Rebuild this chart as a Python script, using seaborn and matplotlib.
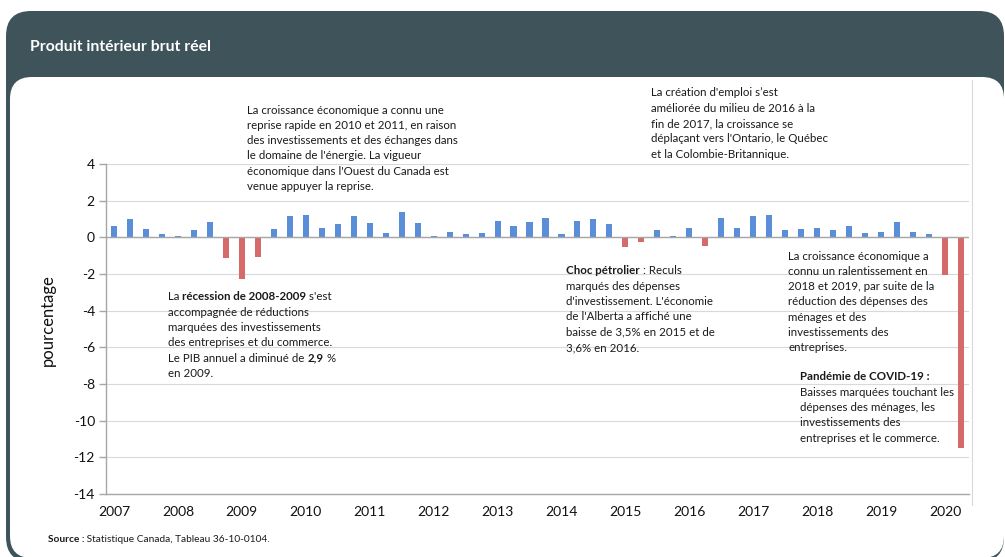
import numpy as np
import pandas as pd
import matplotlib.pyplot as plt
import seaborn as sns
from matplotlib.patches import FancyBboxPatch
from matplotlib.lines import Line2D

W, H = 1005, 557

# Croissance trimestrielle du PIB réel (%), 2007T1 à 2020T2
years = list(range(2007, 2021))
quarters = [f"{y}T{q}" for y in years for q in (1, 2, 3, 4)][:54]
growth = [
    0.62, 1.00, 0.45, 0.16,     # 2007
    0.09, 0.40, 0.84, -1.15,    # 2008
    -2.25, -1.07, 0.45, 1.16,   # 2009
    1.24, 0.53, 0.71, 1.18,     # 2010
    0.76, 0.22, 1.38, 0.76,     # 2011
    0.07, 0.31, 0.16, 0.22,     # 2012
    0.91, 0.62, 0.85, 1.07,     # 2013
    0.16, 0.91, 1.00, 0.71,     # 2014
    -0.55, -0.25, 0.38, 0.07,   # 2015
    0.53, -0.47, 1.07, 0.53,    # 2016
    1.16, 1.22, 0.38, 0.44,     # 2017
    0.53, 0.38, 0.62, 0.22,     # 2018
    0.31, 0.84, 0.31, 0.16,     # 2019
    -2.05, -11.50,              # 2020
]
year_labels = [str(y) for y in years]
y_ticks = list(range(-14, 5, 2))

BLUE = '#5b8ed8'
RED = '#d66a6a'
DARK = '#3e545a'
GRID = '#d9d9d9'
AXIS = '#a6a6a6'

df = pd.DataFrame({'trimestre': quarters, 'croissance': growth})
df['signe'] = np.where(df['croissance'] < 0, 'neg', 'pos')

sns.set_style('white')
plt.rcParams['font.family'] = ['Lato', 'DejaVu Sans']

fig = plt.figure(figsize=(W / 100, H / 100), dpi=100)
fig.patch.set_facecolor('white')

# cadre foncé + panneau blanc (sous les axes)
fig.patches.append(FancyBboxPatch((0.06, -0.05), 9.98, 5.51,
                                  boxstyle='round,pad=0,rounding_size=0.25',
                                  transform=fig.dpi_scale_trans, fc=DARK, ec='none', zorder=-3))
fig.patches.append(FancyBboxPatch((0.10, -0.01), 9.94, 4.81,
                                  boxstyle='round,pad=0,rounding_size=0.22',
                                  transform=fig.dpi_scale_trans, fc='white', ec='none', zorder=-2))
fig.lines.append(Line2D([972 / W, 972 / W], [1 - 80 / H, 1 - 505 / H],
                        transform=fig.transFigure, color=GRID, lw=0.8, zorder=-1))

ax = fig.add_axes([106 / W, 1 - 494 / H, (969 - 106) / W, (494 - 164) / H])
ax.set_facecolor('none')

sns.barplot(data=df, x='trimestre', y='croissance', hue='signe', order=quarters,
            palette={'pos': BLUE, 'neg': RED}, dodge=False, width=0.38,
            saturation=1, linewidth=0, legend=False, ax=ax)

ax.set_xlim(-0.5, 53.5)
ax.set_ylim(-14, 4)
ax.set_yticks(y_ticks)
ax.set_yticklabels([str(t) for t in y_ticks])
ax.set_xticks(range(0, 54, 4))
ax.set_xticklabels(year_labels)
ax.set_xlabel('')
ax.set_ylabel('')

ax.set_axisbelow(True)
ax.yaxis.grid(True, color=GRID, lw=0.8)
ax.axhline(0, color=AXIS, lw=1, zorder=1)
for s in ('top', 'right'):
    ax.spines[s].set_visible(False)
for s in ('left', 'bottom'):
    ax.spines[s].set_color(AXIS)
    ax.spines[s].set_linewidth(1)
ax.tick_params(axis='x', length=0, pad=9, labelsize=10, labelcolor='#111111')
ax.tick_params(axis='y', length=5, width=1, color=AXIS, pad=3, labelsize=10,
               labelcolor='#111111', left=True)

fig.text(48 / W, 1 - 320 / H, 'pourcentage', rotation=90, ha='center', va='center',
         fontsize=12, color='#111111')
fig.text(30 / W, 1 - 47 / H, 'Produit intérieur brut réel', color='white',
         fontweight='bold', fontsize=11.3, va='center')

LINE_H = 15.3


def draw_runs(x, y, runs, size):
    """Une ligne de texte avec des morceaux en gras, placés bout à bout"""
    prev = None
    for txt, bold in runs:
        w = 'bold' if bold else 'normal'
        if prev is None:
            prev = fig.text(x / W, 1 - y / H, txt, ha='left', va='center',
                            fontsize=size, fontweight=w, color='#1a1a1a')
        else:
            prev = ax.annotate(txt, xy=(1, 0.5), xycoords=prev, ha='left', va='center',
                               fontsize=size, fontweight=w, color='#1a1a1a',
                               annotation_clip=False)


def draw_block(x, y, lines, size=8.3):
    for i, line in enumerate(lines):
        runs = [(line, False)] if isinstance(line, str) else line
        draw_runs(x, y + i * LINE_H, runs, size)


draw_block(247, 110, [
    "La croissance économique a connu une",
    "reprise rapide en 2010 et 2011, en raison",
    "des investissements et des échanges dans",
    "le domaine de l'énergie. La vigueur",
    "économique dans l'Ouest du Canada est",
    "venue appuyer la reprise.",
])
draw_block(651, 93, [
    "La création d'emploi s’est",
    "améliorée du milieu de 2016 à la",
    "fin de 2017, la croissance se",
    "déplaçant vers l'Ontario, le Québec",
    "et la Colombie-Britannique.",
])
draw_block(168, 297, [
    [("La ", False), ("récession de 2008-2009", True), (" s'est", False)],
    "accompagnée de réductions",
    "marquées des investissements",
    "des entreprises et du commerce.",
    [("Le PIB annuel a diminué de ", False), ("2,9", True), (" %", False)],
    "en 2009.",
])
draw_block(566, 271, [
    [("Choc pétrolier", True), (" : Reculs", False)],
    "marqués des dépenses",
    "d'investissement. L'économie",
    "de l'Alberta a affiché une",
    "baisse de 3,5% en 2015 et de",
    "3,6% en 2016.",
])
draw_block(788, 256, [
    "La croissance économique a",
    "connu un ralentissement en",
    "2018 et 2019, par suite de la",
    "réduction des dépenses des",
    "ménages et des",
    "investissements des",
    "entreprises.",
])
draw_block(800, 377, [
    [("Pandémie de COVID-19 :", True)],
    "Baisses marquées touchant les",
    "dépenses des ménages, les",
    "investissements des",
    "entreprises et le commerce.",
])

draw_runs(48, 540, [("Source :", True), (" Statistique Canada, Tableau 36-10-0104.", False)], 7.3)

fig.savefig('out.png', dpi=100)
